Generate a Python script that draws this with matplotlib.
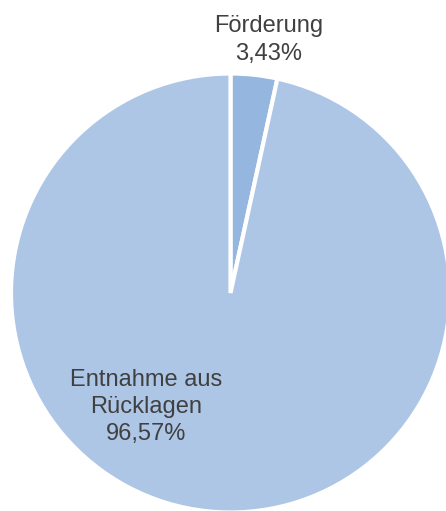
import matplotlib
matplotlib.use("Agg")
import matplotlib.pyplot as plt

categories = ["Förderung", "Entnahme aus\nRücklagen"]
values = [3.43, 96.57]
colors = ["#95B7DF", "#ADC6E6"]

W, H = 446, 511
fig = plt.figure(figsize=(W / 100, H / 100), dpi=100)
ax = fig.add_axes([0, 0, 1, 1])

cx, cy, r = 230.5, H - 293, 219.5
ax.pie(values, colors=colors, startangle=90, counterclock=False,
       center=(cx, cy), radius=r, frame=True,
       wedgeprops=dict(edgecolor="white", linewidth=3))
ax.set_xlim(0, W)
ax.set_ylim(0, H)
ax.set_aspect("equal")
ax.axis("off")

label_pos = [(269, H - 40), (146, H - 407)]
for name, v, (x, y) in zip(categories, values, label_pos):
    txt = f"{name}\n{v:.2f}%".replace(".", ",")
    ax.text(x, y, txt, ha="center", va="center", fontsize=17,
            family=["Liberation Sans", "DejaVu Sans"], color="#404040",
            linespacing=1.3)

fig.savefig("out.png", dpi=100)
